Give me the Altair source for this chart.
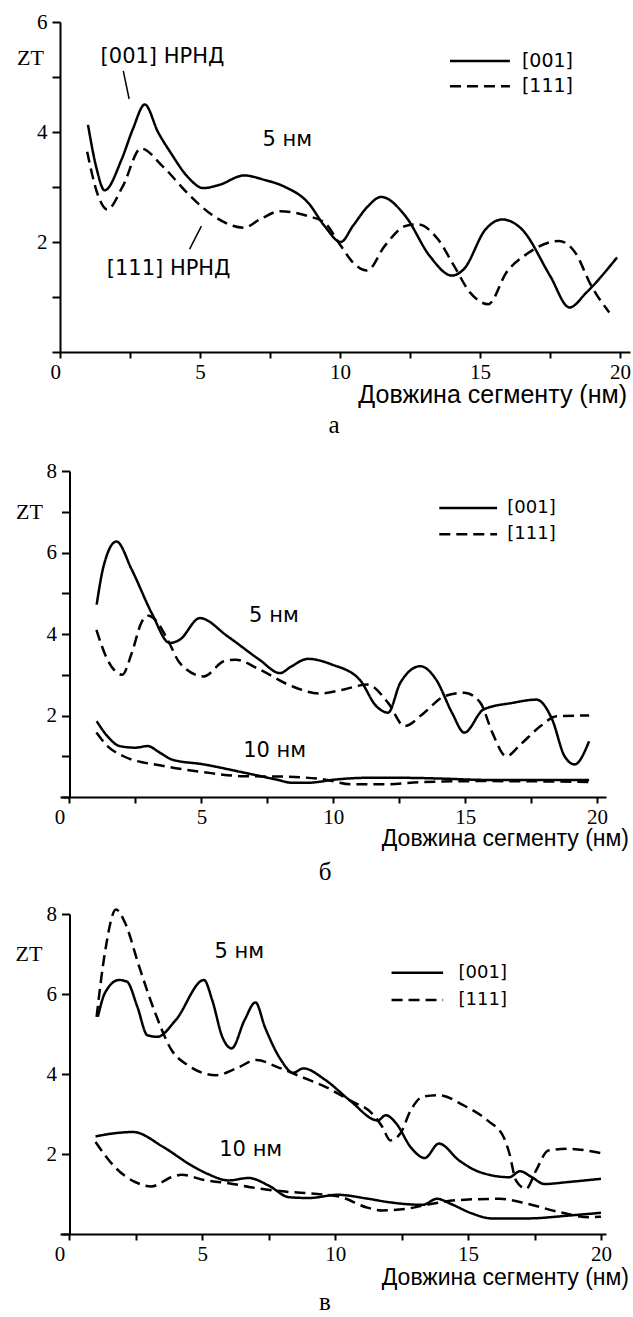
import altair as alt
import pandas as pd

SERIF = "Liberation Serif"
SANS = "DejaVu Sans"
TITLE_SANS = "Liberation Sans"

# ---------------- panel а (5 nm) ----------------
a_001_x = [1.0, 1.3, 1.59, 2.2, 2.6, 3.03, 3.5, 3.97, 4.55, 5.12, 5.7, 6.57, 7.3, 8.0, 8.87, 9.45, 10.03, 10.46, 11.0, 11.47, 12.34, 13.2, 14.0, 14.43, 15.2, 15.8, 16.5, 17.5, 18.2, 18.8, 19.9]
a_001_y = [4.13, 3.35, 2.94, 3.5, 4.05, 4.5, 4.0, 3.61, 3.19, 2.98, 3.04, 3.21, 3.13, 3.01, 2.71, 2.29, 2.0, 2.29, 2.65, 2.82, 2.47, 1.75, 1.39, 1.51, 2.23, 2.41, 2.23, 1.39, 0.81, 1.08, 1.72]
a_111_x = [0.97, 1.37, 1.69, 2.24, 2.89, 3.68, 4.55, 5.41, 6.57, 7.14, 7.86, 8.87, 9.45, 10.03, 10.46, 10.97, 11.6, 12.34, 12.77, 13.5, 14.07, 14.65, 15.3, 15.95, 16.67, 17.82, 18.4, 18.98, 19.62]
a_111_y = [3.64, 2.83, 2.59, 3.01, 3.7, 3.37, 2.89, 2.5, 2.26, 2.41, 2.56, 2.47, 2.35, 1.93, 1.63, 1.48, 1.93, 2.29, 2.32, 2.05, 1.57, 1.08, 0.87, 1.45, 1.78, 2.02, 1.81, 1.2, 0.72]

# ---------------- panel б ----------------
b_001_5_x = [1.03, 1.29, 1.78, 2.36, 3.12, 3.8, 4.18, 4.94, 6.0, 7.2, 7.98, 8.4, 9.04, 9.95, 11.0, 11.63, 12.08, 12.54, 13.3, 13.9, 14.5, 14.97, 15.7, 16.8, 17.7, 18.3, 18.77, 19.15, 19.7]
b_001_5_y = [4.72, 5.66, 6.27, 5.58, 4.51, 3.78, 3.86, 4.39, 3.94, 3.37, 3.04, 3.2, 3.39, 3.25, 2.88, 2.23, 2.07, 2.8, 3.21, 2.88, 2.07, 1.58, 2.15, 2.31, 2.39, 1.9, 1.0, 0.8, 1.37]
b_111_5_x = [1.02, 1.44, 2.0, 2.36, 2.74, 3.0, 3.25, 3.72, 4.18, 5.09, 5.85, 6.3, 7.2, 8.43, 9.5, 10.4, 11.3, 12.08, 12.7, 13.45, 14.2, 14.97, 15.58, 16.03, 16.56, 17.1, 17.86, 18.47, 19.7]
b_111_5_y = [4.1, 3.37, 3.0, 3.53, 4.3, 4.45, 4.35, 3.86, 3.29, 2.96, 3.33, 3.37, 3.13, 2.72, 2.54, 2.64, 2.76, 2.31, 1.74, 2.07, 2.47, 2.56, 2.31, 1.58, 1.0, 1.29, 1.74, 1.98, 2.0]
b_001_10_x = [1.03, 1.44, 1.9, 2.5, 2.96, 3.42, 3.88, 5.09, 6.6, 7.83, 8.43, 9.04, 10.1, 11.2, 12.7, 14.2, 15.7, 19.7]
b_001_10_y = [1.86, 1.49, 1.25, 1.21, 1.25, 1.09, 0.92, 0.8, 0.6, 0.43, 0.35, 0.35, 0.43, 0.47, 0.47, 0.45, 0.42, 0.42]
b_111_10_x = [1.02, 1.44, 2.05, 3.57, 5.09, 6.6, 8.13, 9.65, 10.7, 11.93, 13.45, 15.7, 19.7]
b_111_10_y = [1.58, 1.25, 1.0, 0.76, 0.61, 0.51, 0.5, 0.43, 0.31, 0.31, 0.37, 0.39, 0.37]

# ---------------- panel в ----------------
c_001_5_x = [1.07, 1.33, 1.86, 2.16, 2.55, 2.93, 3.31, 4.0, 5.06, 5.37, 5.75, 6.1, 6.59, 7.0, 7.35, 7.96, 8.41, 8.8, 9.63, 10.55, 11.6, 11.9, 12.3, 12.84, 13.37, 13.9, 14.66, 15.43, 16.56, 16.95, 17.4, 17.87, 18.78, 20.0]
c_001_5_y = [5.43, 6.02, 6.35, 6.31, 5.69, 4.97, 4.93, 5.35, 6.35, 5.85, 4.93, 4.64, 5.35, 5.79, 5.18, 4.35, 4.03, 4.14, 3.85, 3.34, 2.84, 2.97, 2.76, 2.17, 1.9, 2.26, 1.84, 1.55, 1.42, 1.57, 1.42, 1.25, 1.3, 1.38]
c_111_5_x = [1.02, 1.33, 1.75, 2.09, 2.62, 3.23, 3.84, 4.45, 5.52, 6.28, 7.04, 7.8, 8.72, 9.63, 10.55, 11.39, 11.77, 12.07, 12.45, 12.84, 13.29, 13.9, 14.82, 15.73, 16.34, 16.56, 16.8, 17.18, 17.56, 18.02, 18.78, 20.0]
c_111_5_y = [5.43, 7.02, 8.11, 7.78, 6.69, 5.52, 4.6, 4.22, 3.97, 4.14, 4.35, 4.18, 3.93, 3.68, 3.34, 3.01, 2.68, 2.34, 2.51, 3.09, 3.43, 3.47, 3.22, 2.84, 2.42, 2.0, 1.34, 1.13, 1.59, 2.09, 2.13, 2.02]
c_001_10_x = [0.98, 1.71, 2.39, 3.54, 4.6, 5.21, 5.98, 6.74, 7.5, 8.26, 9.02, 10.09, 11.16, 12.07, 13.29, 13.83, 14.36, 15.12, 15.88, 17.26, 18.78, 20.0]
c_001_10_y = [2.44, 2.52, 2.55, 2.17, 1.71, 1.5, 1.34, 1.4, 1.21, 0.92, 0.9, 0.98, 0.89, 0.79, 0.73, 0.88, 0.75, 0.52, 0.39, 0.39, 0.46, 0.53]
c_111_10_x = [0.98, 1.71, 2.47, 3.08, 3.84, 4.22, 5.06, 5.98, 7.2, 8.11, 9.33, 10.24, 11.16, 11.77, 12.68, 13.6, 14.66, 16.19, 17.26, 18.48, 19.54, 20.0]
c_111_10_y = [2.3, 1.67, 1.3, 1.19, 1.42, 1.48, 1.35, 1.27, 1.13, 1.06, 1.0, 0.92, 0.67, 0.59, 0.63, 0.75, 0.85, 0.88, 0.75, 0.54, 0.42, 0.43]

# annotations
a_note_text = ["[001] НРНД", "[111] НРНД", "5 нм"]
a_note_x = [3.66, 3.88, 8.12]
a_note_y = [5.37, 1.51, 3.85]
a_lead_x = [2.26, 5.05]
a_lead_y = [5.11, 2.29]
a_lead_x2 = [2.47, 4.63]
a_lead_y2 = [4.6, 1.87]
b_note_text = ["5 нм", "10 нм"]
b_note_x = [7.75, 7.78]
b_note_y = [4.45, 1.14]
c_note_text = ["5 нм", "10 нм"]
c_note_x = [6.39, 6.82]
c_note_y = [7.06, 2.11]

# legend keys (placed in data units of each panel)
ORIENTS = ["[001]", "[111]"]
a_key_x, a_key_x2, a_key_tx, a_key_y = 13.93, 16.07, 16.5, [5.29, 4.83]
b_key_x, b_key_x2, b_key_tx, b_key_y = 14.02, 16.21, 16.6, [7.09, 6.45]
c_key_x, c_key_x2, c_key_tx, c_key_y = 12.12, 14.06, 14.64, [6.53, 5.85]

x_ticks = [0, 2.5, 5, 7.5, 10, 12.5, 15, 17.5, 20]
DASH = alt.Scale(domain=ORIENTS, range=[[1, 0], [11, 6]])


def curves(series):
    rows = []
    for name, orient, xs, ys in series:
        for xv, yv in zip(xs, ys):
            rows.append({"curve": name, "orient": orient, "x": xv, "y": yv})
    return pd.DataFrame(rows)


def panel(df, xdom, ymax, y_ticks, width, height, title, title_dx, title_off,
          y_off, x_title_x, x_title_pad, x_title_size, zt_x, zt_y, key, key_size,
          notes, leads=None):
    x_axis = alt.Axis(
        values=x_ticks, labelExpr="datum.value % 5 == 0 ? datum.label : ''",
        labelOffset={"condition": {"test": "datum.value == 0", "value": -10}, "value": 0},
        title="Довжина сегменту (нм)", titleFont=TITLE_SANS, titleFontSize=x_title_size,
        titleFontWeight="normal", titleAnchor="end", titleAlign="right",
        titleX=x_title_x, titlePadding=x_title_pad,
        labelFont=SERIF, labelFontSize=21, labelPadding=3, tickSize=6,
        grid=False, domainColor="black", tickColor="black", domainWidth=2,
        tickWidth=2, labelColor="black", titleColor="black", labelBound=False,
        labelOverlap=False)
    y_axis = alt.Axis(
        values=y_ticks,
        labelExpr="datum.value > 0 && datum.value % 2 == 0 ? format(datum.value, 'd') : ''",
        title="ZT", titleAngle=0, titleFont=SERIF, titleFontSize=22,
        titleFontWeight="normal", titleAlign="center", titleBaseline="middle",
        titleX=zt_x, titleY=zt_y, offset=y_off,
        labelFont=SERIF, labelFontSize=21, labelPadding=5, tickSize=8,
        grid=False, domainColor="black", tickColor="black", domainWidth=2,
        tickWidth=2, labelColor="black", titleColor="black", labelOverlap=False)
    lines = alt.Chart(df).mark_line(interpolate="monotone", strokeWidth=2.5, color="black").encode(
        x=alt.X("x:Q", scale=alt.Scale(domain=xdom, nice=False, zero=False), axis=x_axis),
        y=alt.Y("y:Q", scale=alt.Scale(domain=[0, ymax], nice=False), axis=y_axis),
        detail="curve:N",
        strokeDash=alt.StrokeDash("orient:N", scale=DASH, legend=None),
    )
    # legend keys
    kx, kx2, ktx, ky = key
    kd = pd.DataFrame({"orient": ORIENTS, "x": [kx, kx], "x2": [kx2, kx2],
                       "tx": [ktx, ktx], "y": ky})
    key_lines = alt.Chart(kd).mark_rule(strokeWidth=2.5, color="black").encode(
        x="x:Q", x2="x2:Q", y="y:Q",
        strokeDash=alt.StrokeDash("orient:N", scale=DASH, legend=None))
    key_text = alt.Chart(kd).mark_text(font=SANS, fontSize=key_size, color="black",
                                       align="left", baseline="middle").encode(
        x="tx:Q", y="y:Q", text="orient:N")
    ntext, nx, ny = notes
    nd = pd.DataFrame({"t": ntext, "x": nx, "y": ny})
    txt = alt.Chart(nd).mark_text(font=SANS, fontSize=21, color="black").encode(
        x="x:Q", y="y:Q", text="t:N")
    layers = [lines, key_lines, key_text, txt]
    if leads is not None:
        lx, ly, lx2, ly2 = leads
        ld = pd.DataFrame({"x": lx, "y": ly, "x2": lx2, "y2": ly2})
        layers.append(alt.Chart(ld).mark_rule(strokeWidth=1.5, color="black").encode(
            x="x:Q", y="y:Q", x2="x2:Q", y2="y2:Q"))
    return alt.layer(*layers).properties(
        width=width, height=height,
        title=alt.Title(title, orient="bottom", anchor="middle", font=SERIF,
                        fontSize=25, fontWeight="normal", color="black",
                        dx=title_dx, offset=title_off),
    )


df_a = curves([("a001", "[001]", a_001_x, a_001_y), ("a111", "[111]", a_111_x, a_111_y)])
df_b = curves([("b001_5", "[001]", b_001_5_x, b_001_5_y), ("b111_5", "[111]", b_111_5_x, b_111_5_y),
               ("b001_10", "[001]", b_001_10_x, b_001_10_y), ("b111_10", "[111]", b_111_10_x, b_111_10_y)])
df_c = curves([("c001_5", "[001]", c_001_5_x, c_001_5_y), ("c111_5", "[111]", c_111_5_x, c_111_5_y),
               ("c001_10", "[001]", c_001_10_x, c_001_10_y), ("c111_10", "[111]", c_111_10_x, c_111_10_y)])

pa = panel(df_a, [0, 20.36], 6, [i * 0.5 for i in range(13)], 570, 330, "а", -11, 6,
           0, 566.5, 0, 25, -30, 35, (a_key_x, a_key_x2, a_key_tx, a_key_y), 19,
           (a_note_text, a_note_x, a_note_y),
           (a_lead_x, a_lead_y, a_lead_x2, a_lead_y2))
pb = panel(df_b, [-0.36, 20.34], 8, list(range(9)), 546, 326, "б", -8, 10,
           -9.5, 568.5, 0, 23, -40.5, 40, (b_key_x, b_key_x2, b_key_tx, b_key_y), 18,
           (b_note_text, b_note_x, b_note_y))
pc = panel(df_c, [-0.357, 20.19], 8, list(range(9)), 546, 320, "в", -8, 1,
           -9.5, 568.5, 2, 23, -41, 39, (c_key_x, c_key_x2, c_key_tx, c_key_y), 18,
           (c_note_text, c_note_x, c_note_y))

lower = alt.vconcat(pb, pc, spacing=18).resolve_scale(
    x="independent", y="independent")
chart = alt.vconcat(pa, lower, spacing=22).resolve_scale(
    x="independent", y="independent"
).properties(
    padding={"left": 15, "top": 11, "right": 0, "bottom": 0},
    background="white",
).configure_view(stroke=None)

chart.save("out.html", embed_options={"renderer": "svg", "actions": False})
